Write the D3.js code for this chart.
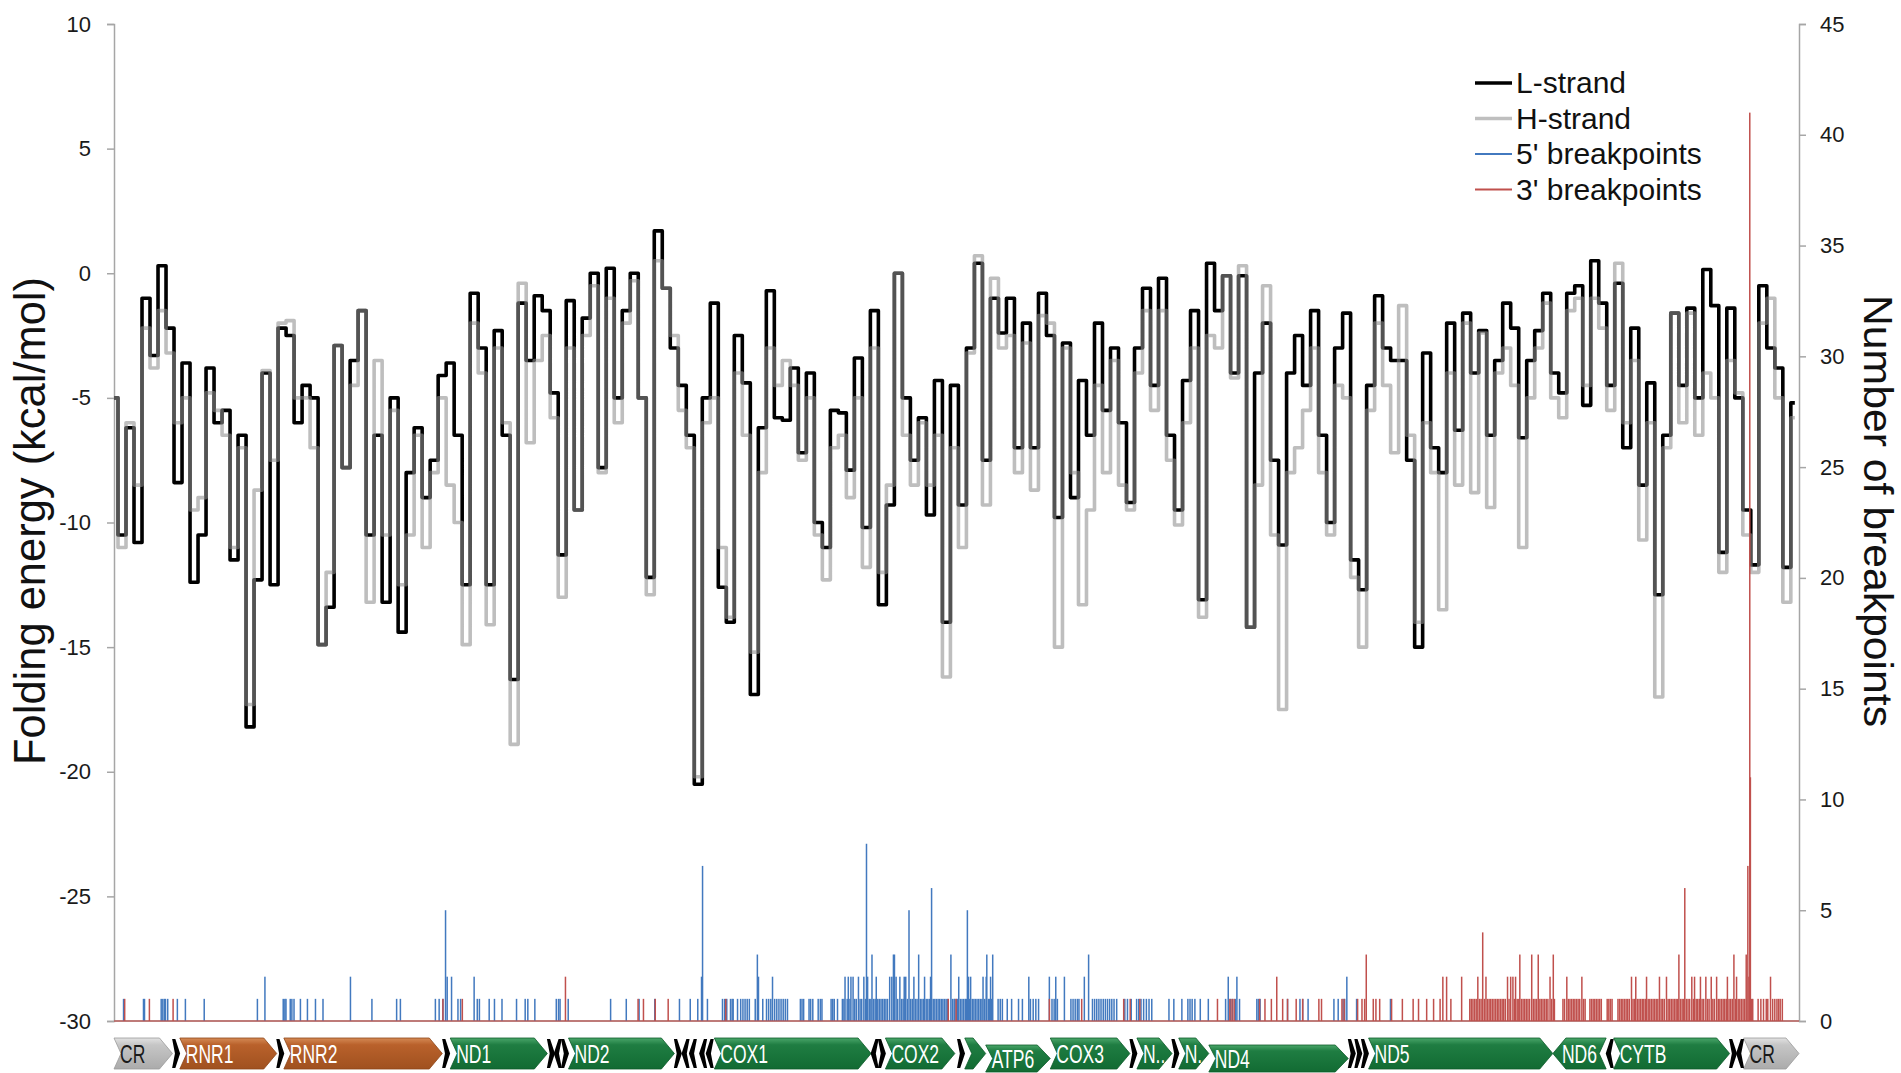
<!DOCTYPE html>
<html>
<head>
<meta charset="utf-8">
<script src="https://cdn.jsdelivr.net/npm/d3@7"></script>
<style>
  html, body { margin: 0; padding: 0; background: #fff; }
  svg { display: block; }
</style>
</head>
<body>
<svg id="chart" width="1901" height="1073"></svg>
<script>
// ---- Genome and sliding-window settings ----
const GENOME_LENGTH = 16569;
const WINDOW_STEP = 78.7;            // bp between successive folding windows

// ---- Folding energy per window (kcal/mol) ----
const lStrand = [
  -5.0,-10.5,-6.2,-10.8,-1.0,-3.3,0.3,-2.2,-8.4,-3.6,-12.4,-10.5,-3.8,-6.0,-5.5,-11.5,-6.5,-18.2,-12.3,-4.0,
  -12.5,-2.2,-2.5,-6.0,-4.5,-5.0,-14.9,-13.4,-2.9,-7.8,-3.5,-1.5,-10.5,-6.5,-13.2,-5.0,-14.4,-8.0,-6.2,-9.0,
  -7.5,-4.1,-3.6,-6.5,-12.5,-0.8,-3.0,-12.5,-2.3,-6.5,-16.3,-1.2,-3.5,-0.9,
  -1.5,-4.8,-11.3,-1.1,-9.5,-1.8,0.0,-7.8,0.2,-5.0,-1.5,0.0,-5.0,-12.2,1.7,-0.6,-3.0,-4.5,-6.5,-20.5,-5.0,
  -1.2,-12.6,-14.0,-2.5,-4.4,-16.9,-6.2,-0.7,-5.8,-5.9,-3.8,-7.2,-4.0,-10.0,-11.0,-5.5,-5.6,-7.9,-3.4,-10.2,
  -1.5,-13.3,-9.3,0.0,-5.0,-7.5,-5.8,-9.7,-4.3,-14.0,-4.5,
  -9.3,-3.0,0.4,-7.5,-1.0,-2.4,-1.0,-7.0,-2.0,-7.0,-0.8,-2.5,-9.8,-2.8,-9.0,-4.3,-6.5,-2.0,-5.5,-3.0,
  -6.0,-9.2,-3.0,-0.6,-4.5,-0.2,-6.5,-9.5,-4.3,-1.5,-13.1,0.4,-1.5,-0.1,-4.0,-0.1,-14.2,-4.0,-2.0,-7.5,
  -10.9,-4.0,-2.5,-4.5,-1.5,-6.5,-10.0,-3.0,-1.6,-11.5,-12.7,-4.5,-0.9,
  -3.0,-3.5,-3.5,-7.5,-15.0,-3.2,-7.0,-8.0,-2.0,-6.3,-1.6,-4.0,-2.3,-6.5,-3.5,-1.2,-2.2,-6.6,-3.5,-2.3,
  -0.8,-4.0,-4.8,-0.8,-0.5,-5.3,0.5,-1.2,-4.5,-0.4,-7.0,-2.2,-8.5,-4.4,-12.9,-6.5,-1.6,-4.5,-1.4,-5.0,
  0.15,-1.3,-11.2,-1.4,-5.0,-9.5,-11.7,-0.5,-3.0,-3.8,-11.8,-5.2
];
const hStrand = [
  -5.0,-11.0,-6.0,-8.5,-2.2,-3.8,-1.5,-3.2,-6.0,-5.0,-9.5,-9.0,-4.8,-5.5,-6.5,-11.0,-7.0,-17.3,-8.7,-3.9,
  -7.5,-2.0,-1.9,-5.0,-5.0,-7.0,-14.9,-12.0,-2.9,-7.8,-4.5,-1.5,-13.2,-3.5,-10.5,-5.5,-12.5,-10.5,-6.5,-11.0,
  -8.0,-5.0,-8.5,-10.0,-14.9,-2.0,-4.0,-14.1,-3.0,-6.0,-18.9,-0.4,-6.8,-3.5,
  -2.5,-5.8,-13.0,-3.0,-9.5,-2.5,-0.5,-8.0,-1.0,-6.0,-2.0,-0.3,-5.0,-12.9,0.5,-0.6,-2.5,-5.5,-7.0,-20.2,-6.0,
  -5.0,-11.0,-13.8,-4.0,-6.5,-15.2,-8.0,-3.0,-4.5,-3.5,-4.5,-7.5,-5.0,-10.5,-12.3,-7.0,-6.5,-9.0,-5.0,-11.8,
  -3.0,-12.0,-8.5,0.0,-6.5,-8.5,-6.0,-8.5,-6.5,-16.2,-7.0,
  -11.0,-3.2,0.7,-9.3,-0.2,-3.0,-2.5,-8.0,-2.8,-8.7,-1.7,-2.0,-15.0,-3.0,-8.0,-13.3,-9.5,-4.5,-8.0,-3.5,
  -8.5,-9.5,-4.0,-1.5,-5.5,-1.5,-7.5,-10.1,-6.0,-3.0,-13.8,-2.5,-3.0,-0.1,-4.2,0.3,-14.2,-8.5,-0.5,-10.5,
  -17.5,-8.0,-7.0,-5.5,-3.0,-8.0,-10.5,-4.5,-5.0,-12.2,-15.0,-5.5,-2.0,
  -4.5,-7.2,-1.3,-6.5,-14.0,-6.0,-8.0,-13.5,-4.0,-8.5,-2.0,-8.8,-2.4,-9.4,-4.0,-3.0,-4.5,-11.0,-5.0,-3.0,
  -1.2,-5.0,-5.8,-1.5,-1.0,-4.5,-1.0,-2.2,-5.5,0.4,-6.0,-3.5,-10.7,-6.0,-17.0,-7.0,-1.6,-6.0,-1.6,-6.5,
  -4.0,-5.0,-12.0,-3.5,-4.8,-10.5,-12.0,-2.0,-1.0,-5.0,-13.2,-5.8
];

// ---- Deletion breakpoints: [genome position (bp), number of breakpoints] ----
const fivePrime = [
  [95,1],[291,1],[301,1],[465,1],[481,1],[497,1],[507,1],[529,1],[624,1],[703,1],[888,1],[1411,1],[1485,2],
  [1665,1],[1681,1],[1692,1],[1734,1],[1750,1],[1771,1],[1834,1],[1903,1],[1982,1],[2056,1],[2326,2],[2537,1],
  [2780,1],[2817,1],[3161,1],[3198,1],[3235,1],[3261,5],[3277,2],[3320,2],[3383,1],[3409,1],[3542,2],[3573,1],
  [3594,1],[3690,1],[3742,1],[3816,1],[3959,1],[4044,1],[4070,1],[4139,1],[4350,1],[4372,1],[4387,1],[4467,1],
  [4884,1],[5038,1],[5164,1],[5318,1],[5561,1],[5667,1],[5741,1],[5778,2],[5788,7],[5836,1],[5984,1],[6005,1],
  [6026,1],[6063,1],[6079,1],[6089,1],[6132,1],[6163,1],[6185,1],[6206,1],[6227,1],[6248,1],[6306,1],[6327,3],
  [6338,2],[6380,1],[6417,1],[6438,1],[6459,1],[6476,2],[6497,1],[6518,1],[6539,1],[6560,1],[6581,1],[6602,1],
  [6623,1],[6750,1],[6766,1],[6782,1],[6835,1],[6851,1],[6872,1],[6925,1],[6946,1],[6962,1],[7052,1],[7068,1],
  [7083,1],[7115,1],[7163,1],[7178,1],[7189,2],[7210,1],[7221,2],[7237,1],[7247,2],[7268,2],[7284,1],[7300,1],
  [7321,2],[7337,1],[7353,1],[7374,2],[7390,1],[7400,8],[7411,2],[7427,1],[7443,1],[7454,3],[7469,1],[7485,1],
  [7496,2],[7511,1],[7527,1],[7543,1],[7559,1],[7575,1],[7591,1],[7607,1],[7628,2],[7649,2],[7665,3],[7675,3],
  [7691,2],[7707,1],[7728,2],[7744,1],[7760,1],[7771,2],[7786,2],[7802,1],[7818,5],[7834,1],[7850,1],[7866,2],
  [7881,1],[7897,1],[7913,3],[7929,1],[7945,1],[7961,1],[7971,2],[7987,1],[8003,1],[8019,1],[8030,2],[8040,6],
  [8056,1],[8072,1],[8088,1],[8104,1],[8119,1],[8135,1],[8151,1],[8167,1],[8183,1],[8199,1],[8230,3],[8246,1],
  [8262,1],[8270,1],[8286,1],[8297,1],[8307,2],[8323,1],[8339,1],[8355,1],[8371,1],[8381,1],[8392,5],[8403,2],
  [8413,1],[8424,2],[8440,1],[8456,1],[8471,1],[8487,1],[8503,1],[8519,1],[8535,1],[8546,2],[8562,1],[8577,2],
  [8583,3],[8599,1],[8609,1],[8620,2],[8630,1],[8641,3],[8694,1],[8715,1],[8736,1],[8784,1],[8827,1],[8895,1],
  [8933,1],[8996,2],[9012,1],[9039,1],[9065,1],[9092,1],[9198,2],[9224,1],[9245,1],[9261,2],[9277,1],[9346,2],
  [9410,1],[9431,1],[9452,1],[9473,1],[9489,1],[9542,2],[9584,3],[9622,1],[9643,1],[9664,1],[9685,1],[9706,1],
  [9728,1],[9749,1],[9770,1],[9791,1],[9812,1],[9834,1],[9860,1],[9940,1],[9966,1],[10003,1],[10056,1],[10077,1],
  [10099,1],[10125,1],[10152,1],[10178,1],[10205,1],[10374,1],[10422,1],[10501,1],[10560,1],[10581,1],[10602,1],
  [10629,1],[10682,1],[10761,1],[10931,1],[10957,2],[10978,1],[10999,1],[11026,1],[11042,2],[11068,1],[11238,1],
  [11254,1],[11270,1],[11540,1],[11662,1],[11689,1],[11742,1],[11996,1],[12038,1],[12086,1],[12102,1],[12123,2],
  [12219,1],[12552,1]
];
const threePrime = [
  [106,1],[349,1],[582,1],[3235,1],[3426,1],[4440,2],[5154,1],[5207,1],[5323,1],[5450,1],[6016,1],[8204,1],
  [8281,1],[9198,1],[9516,1],[9929,1],[9993,1],[10088,1],[10851,1],[10973,1],[10994,1],[11015,1],[11265,1],
  [11318,1],[11381,1],[11434,2],[11492,1],[11540,1],[11625,1],[11689,1],[11848,1],[11874,1],[12075,1],[12097,1],
  [12229,1],[12272,1],[12298,1],[12314,3],[12383,1],[12409,1],[12446,1],[12563,1],[12669,1],[12775,1],[12828,1],
  [12908,1],[12976,1],[13040,1],[13067,2],[13104,2],[13146,1],[13252,2],
  [13332,1],[13347,1],[13363,1],[13379,1],[13395,1],[13411,2],[13427,1],[13443,1],[13459,4],[13475,1],[13491,2],
  [13506,1],[13522,1],[13538,1],[13554,1],[13570,1],[13586,1],[13602,1],[13618,1],[13634,1],[13650,1],[13665,1],
  [13681,1],[13703,2],[13718,1],[13734,2],[13756,2],[13771,1],[13782,2],[13798,1],[13814,1],[13824,3],[13840,1],
  [13856,1],[13872,1],[13888,1],[13904,1],[13920,1],[13941,3],[13957,1],[13973,1],[13989,1],[14005,3],[14021,1],
  [14036,1],[14052,1],[14068,1],[14084,1],[14100,1],[14121,2],[14137,1],[14153,3],[14164,1],
  [14248,1],[14264,1],[14286,2],[14301,1],[14317,1],[14333,1],[14349,1],[14365,1],[14381,1],[14397,1],[14413,1],
  [14434,2],[14450,1],[14466,1],[14513,1],[14529,1],[14545,1],[14561,1],[14577,1],[14593,1],[14609,1],[14625,1],
  [14683,1],[14699,1],[14715,1],[14731,1],
  [14789,1],[14805,1],[14821,1],[14837,1],[14853,1],[14869,1],[14884,1],[14900,1],[14922,2],[14937,1],[14953,1],
  [14964,2],[14980,1],[14996,1],[15012,1],[15028,1],[15043,1],[15059,1],[15070,2],[15086,1],[15102,1],[15118,1],
  [15134,1],[15149,1],[15165,1],[15181,1],[15197,2],[15213,1],[15229,1],[15245,1],[15266,2],[15282,1],[15298,1],
  [15314,1],[15330,1],[15346,1],[15361,1],[15377,1],[15388,3],[15404,1],[15420,1],[15436,1],[15446,6],[15462,1],
  [15478,1],[15494,1],[15515,2],[15531,1],[15542,2],[15558,1],[15573,1],[15589,1],[15600,2],[15616,1],[15632,1],
  [15653,2],[15669,1],[15685,1],[15706,2],[15722,1],[15738,1],[15759,2],[15775,1],[15791,1],[15807,1],[15823,1],
  [15838,1],[15854,1],[15865,2],[15881,1],[15897,1],[15913,1],[15929,3],[15944,1],[15955,2],[15971,1],[15987,1],
  [16003,1],[16019,1],[16035,1],[16050,3],[16066,7],[16077,2],[16085,41],[16091,11],[16103,1],[16114,1],
  [16167,1],[16194,1],[16220,1],[16247,1],[16262,1],[16289,2],[16310,1],[16331,1],[16352,1],[16368,1],[16384,1],
  [16405,1]
];

// ---- Axis tick values ----
const energyTicks = [10, 5, 0, -5, -10, -15, -20, -25, -30];
const breakpointTicks = [0, 5, 10, 15, 20, 25, 30, 35, 40, 45];

// ---- Genome annotation (human mtDNA) ----
const genes = [
  { name: "CR",   label: "CR",   start: 1,     end: 576,   strand: 1,  kind: "control", lower: false },
  { name: "RNR1", label: "RNR1", start: 648,   end: 1601,  strand: 1,  kind: "rrna",    lower: false },
  { name: "RNR2", label: "RNR2", start: 1671,  end: 3229,  strand: 1,  kind: "rrna",    lower: false },
  { name: "ND1",  label: "ND1",  start: 3307,  end: 4262,  strand: 1,  kind: "cds",     lower: false },
  { name: "ND2",  label: "ND2",  start: 4470,  end: 5511,  strand: 1,  kind: "cds",     lower: false },
  { name: "COX1", label: "COX1", start: 5904,  end: 7445,  strand: 1,  kind: "cds",     lower: false },
  { name: "COX2", label: "COX2", start: 7586,  end: 8269,  strand: 1,  kind: "cds",     lower: false },
  { name: "ATP8", label: "",     start: 8366,  end: 8572,  strand: 1,  kind: "cds",     lower: false },
  { name: "ATP6", label: "ATP6", start: 8572,  end: 9207,  strand: 1,  kind: "cds",     lower: true  },
  { name: "COX3", label: "COX3", start: 9207,  end: 9990,  strand: 1,  kind: "cds",     lower: false },
  { name: "ND3",  label: "N..",  start: 10059, end: 10404, strand: 1,  kind: "cds",     lower: false },
  { name: "ND4L", label: "N.",   start: 10470, end: 10766, strand: 1,  kind: "cds",     lower: false },
  { name: "ND4",  label: "ND4",  start: 10766, end: 12137, strand: 1,  kind: "cds",     lower: true  },
  { name: "ND5",  label: "ND5",  start: 12337, end: 14148, strand: 1,  kind: "cds",     lower: false },
  { name: "ND6",  label: "ND6",  start: 14149, end: 14673, strand: -1, kind: "cds",     lower: false },
  { name: "CYTB", label: "CYTB", start: 14747, end: 15887, strand: 1,  kind: "cds",     lower: false },
  { name: "CR",   label: "CR",   start: 16024, end: 16569, strand: 1,  kind: "control", lower: false }
];
const trnas = [
  [577, 647, 1], [1602, 1670, 1], [3230, 3304, 1], [4263, 4331, 1], [4329, 4400, -1], [4402, 4469, 1],
  [5512, 5579, 1], [5587, 5655, -1], [5657, 5729, -1], [5761, 5826, -1], [5826, 5891, -1],
  [7446, 7514, -1], [7518, 7585, 1], [8295, 8364, 1], [9991, 10058, 1], [10405, 10469, 1],
  [12138, 12206, 1], [12207, 12265, 1], [12266, 12336, 1], [14674, 14742, -1], [15888, 15953, 1], [15956, 16023, -1]
];

// ---- Layout ----
const svg = d3.select("#chart");
const plot = { left: 114, right: 1799, top: 24, bottom: 1021 };
const track = { top: 1038, bottom: 1069 };

const x = d3.scaleLinear().domain([1, GENOME_LENGTH]).range([plot.left, plot.right]);
const yEnergy = d3.scaleLinear().domain([-30, 10]).range([plot.bottom, plot.top]);
const yCount = d3.scaleLinear().domain([0, 45]).range([plot.bottom, plot.top]);

const FONT = "'Liberation Sans', Arial, Helvetica, sans-serif";

svg.append("rect").attr("width", 1901).attr("height", 1073).attr("fill", "#fff");

const defs = svg.append("defs");
defs.append("clipPath").attr("id", "plot-clip")
  .append("rect")
  .attr("x", plot.left).attr("y", plot.top)
  .attr("width", plot.right - plot.left).attr("height", plot.bottom - plot.top);

const fills = {
  cds:     ["#4aa66a", "#1f7d42", "#126b33"],
  rrna:    ["#d58a55", "#b9612b", "#a0511f"],
  control: ["#e2e2e2", "#c6c6c6", "#ababab"]
};
Object.entries(fills).forEach(([k, c]) => {
  const g = defs.append("linearGradient").attr("id", "grad-" + k)
    .attr("x1", 0).attr("y1", 0).attr("x2", 0).attr("y2", 1);
  g.append("stop").attr("offset", "0%").attr("stop-color", c[0]);
  g.append("stop").attr("offset", "22%").attr("stop-color", c[1]);
  g.append("stop").attr("offset", "100%").attr("stop-color", c[2]);
});

// Squeeze a text element horizontally to a fraction of its natural width
function condense(sel, factor) {
  sel.each(function () {
    const w = this.getComputedTextLength();
    d3.select(this).attr("textLength", w * factor).attr("lengthAdjust", "spacingAndGlyphs");
  });
}

// ---- Axes ----
const axisColor = "#a6a6a6";
const leftAxis = svg.append("g")
  .attr("transform", `translate(${plot.left},0)`)
  .call(d3.axisLeft(yEnergy).tickValues(energyTicks).tickSize(7).tickPadding(16).tickFormat(d => String(d)));
const rightAxis = svg.append("g")
  .attr("transform", `translate(${plot.right},0)`)
  .call(d3.axisRight(yCount).tickValues(breakpointTicks).tickSize(7).tickPadding(14).tickFormat(d => String(d)));
[leftAxis, rightAxis].forEach(a => {
  a.select(".domain").attr("stroke", axisColor).attr("stroke-width", 1.5);
  a.selectAll(".tick line").attr("stroke", axisColor).attr("stroke-width", 1.5);
  a.selectAll(".tick text").attr("fill", "#1a1a1a").style("font-family", FONT).style("font-size", "22px");
});

// Horizontal axis at the bottom of the plot
svg.append("line")
  .attr("x1", plot.left).attr("x2", plot.right)
  .attr("y1", plot.bottom).attr("y2", plot.bottom)
  .attr("stroke", axisColor).attr("stroke-width", 1.5);

// Axis titles
svg.append("text")
  .attr("transform", `translate(45,521) rotate(-90)`)
  .attr("text-anchor", "middle")
  .attr("textLength", 488).attr("lengthAdjust", "spacingAndGlyphs")
  .style("font-family", FONT).style("font-size", "44px").attr("fill", "#111")
  .text("Folding energy (kcal/mol)");
svg.append("text")
  .attr("transform", `translate(1864,511) rotate(90)`)
  .attr("text-anchor", "middle")
  .attr("textLength", 432).attr("lengthAdjust", "spacingAndGlyphs")
  .style("font-family", FONT).style("font-size", "40px").attr("fill", "#111")
  .text("Number of breakpoints");

// ---- Folding energy curves (window values drawn as steps) ----
const windowPos = i => 1 + i * WINDOW_STEP;
const energyLine = d3.line()
  .x((d, i) => x(windowPos(i)))
  .y(d => yEnergy(d))
  .curve(d3.curveStep);

const lines = svg.append("g").attr("clip-path", "url(#plot-clip)");
lines.append("path").datum(lStrand)
  .attr("d", energyLine)
  .attr("fill", "none").attr("stroke", "#000").attr("stroke-width", 3.6)
  .attr("stroke-linejoin", "round");
lines.append("path").datum(hStrand)
  .attr("d", energyLine)
  .attr("fill", "none").attr("stroke", "#8f8f8f").attr("stroke-opacity", 0.58)
  .attr("stroke-width", 3.6).attr("stroke-linejoin", "round");

// ---- Breakpoint counts ----
const bars = svg.append("g").attr("clip-path", "url(#plot-clip)");
const drawBars = (data, color) => {
  bars.append("g").selectAll("rect").data(data).join("rect")
    .attr("x", d => x(d[0]) - 0.75)
    .attr("width", 1.5)
    .attr("y", d => yCount(d[1]))
    .attr("height", d => yCount(0) - yCount(d[1]))
    .attr("fill", color);
};
drawBars(fivePrime, "#4279bf");
drawBars(threePrime, "#c0504d");

// zero-count baseline of the 3' series
svg.append("line")
  .attr("x1", plot.left).attr("x2", plot.right)
  .attr("y1", plot.bottom).attr("y2", plot.bottom)
  .attr("stroke", "#c0504d").attr("stroke-opacity", 0.8).attr("stroke-width", 1.5);

// ---- Legend ----
const legendItems = [
  { label: "L-strand", color: "#000", width: 3.5 },
  { label: "H-strand", color: "#bfbfbf", width: 3.5 },
  { label: "5' breakpoints", color: "#4279bf", width: 1.8 },
  { label: "3' breakpoints", color: "#c0504d", width: 1.8 }
];
const legend = svg.append("g").attr("transform", "translate(1475,83)");
legendItems.forEach((it, i) => {
  const g = legend.append("g").attr("transform", `translate(0,${i * 35.5})`);
  g.append("line").attr("x1", 0).attr("x2", 37).attr("y1", 0).attr("y2", 0)
    .attr("stroke", it.color).attr("stroke-width", it.width);
  g.append("text").attr("x", 41).attr("y", 10)
    .style("font-family", FONT).style("font-size", "30px").attr("fill", "#111")
    .text(it.label);
});

// ---- Gene annotation track ----
const gtrack = svg.append("g");
function arrowPath(x0, x1, top, bottom, strand, head, notch) {
  const mid = (top + bottom) / 2;
  const h = Math.min(head, (x1 - x0) * 0.6);
  const n = Math.min(notch, (x1 - x0) * 0.35);
  if (strand > 0) {
    return `M${x0},${top}L${x1 - h},${top}L${x1},${mid}L${x1 - h},${bottom}L${x0},${bottom}L${x0 + n},${mid}Z`;
  }
  return `M${x1},${top}L${x0 + h},${top}L${x0},${mid}L${x0 + h},${bottom}L${x1},${bottom}L${x1 - n},${mid}Z`;
}

genes.forEach(g => {
  const x0 = x(g.start), x1 = x(g.end);
  const top = g.lower ? track.top + 7 : track.top;
  const bottom = g.lower ? track.bottom + 3 : track.bottom;
  gtrack.append("path")
    .attr("d", arrowPath(x0, x1, top, bottom, g.strand, 13, 7))
    .attr("fill", `url(#grad-${g.kind})`)
    .attr("stroke", g.kind === "control" ? "#9a9a9a" : (g.kind === "rrna" ? "#8d4518" : "#0d5a2a"))
    .attr("stroke-width", 0.8);
});

trnas.forEach(t => {
  let x0 = x(t[0]), x1 = x(t[1]);
  if (x1 - x0 < 8) { const c = (x0 + x1) / 2; x0 = c - 4; x1 = c + 4; }
  gtrack.append("path")
    .attr("d", arrowPath(x0, x1, track.top + 1, track.bottom - 1, t[2], 6, 5))
    .attr("fill", "#000");
});

// gene names on top of the shapes
genes.filter(g => g.label).forEach(g => {
  const x0 = x(g.start);
  const lx = g.strand > 0 ? x0 + 6 : x0 + 9;
  gtrack.append("text")
    .attr("x", lx).attr("y", g.lower ? track.bottom - 1 : track.bottom - 6)
    .style("font-family", FONT).style("font-size", "25px")
    .attr("fill", g.kind === "control" ? "#1a1a1a" : "#fff")
    .text(g.label)
    .call(condense, 0.7);
});
</script>
</body>
</html>
